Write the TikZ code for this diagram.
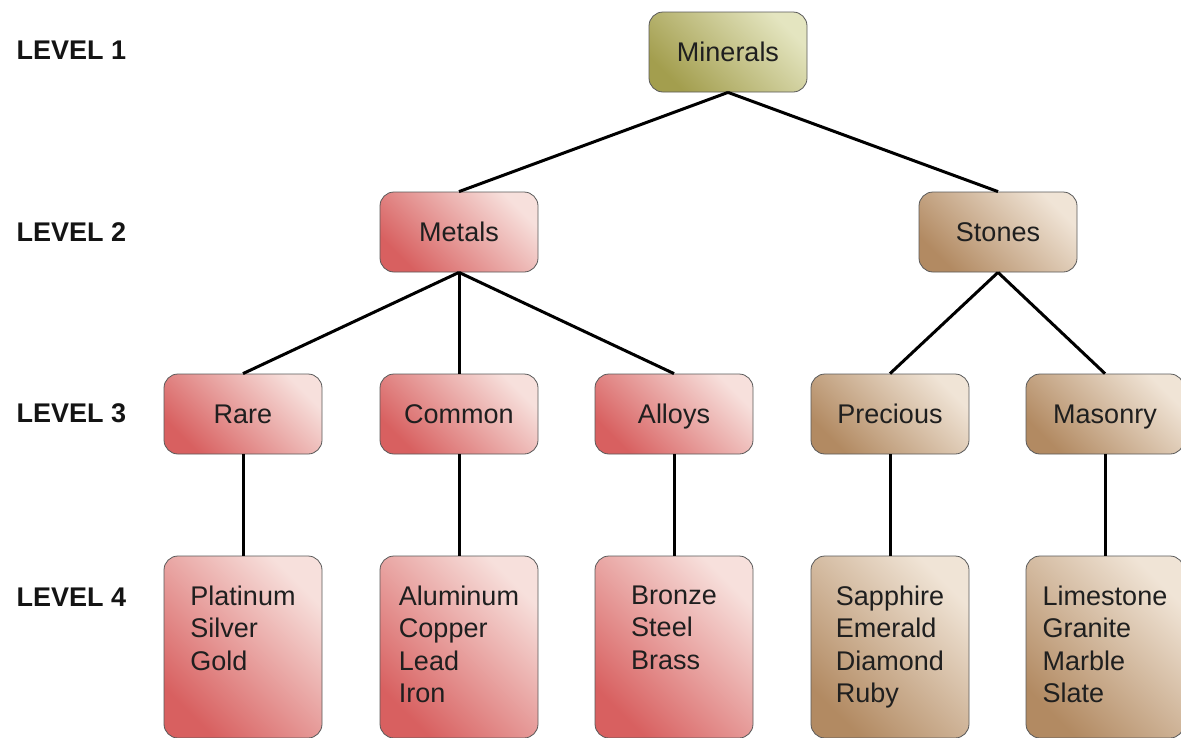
\documentclass[tikz,border=0pt]{standalone}
\usepackage{fontspec}
\setmainfont{Liberation Sans}
\definecolor{minlight}{RGB}{228,229,192}
\definecolor{mindark}{RGB}{163,158,78}
\definecolor{metlight}{RGB}{247,224,220}
\definecolor{metdark}{RGB}{216,96,96}
\definecolor{stolight}{RGB}{240,228,214}
\definecolor{stodark}{RGB}{178,138,98}

\begin{document}
\begin{tikzpicture}[x=1pt,y=-1pt,
	txt/.style={font=\fontsize{27}{32.5}\selectfont,text=black!88},
	lev/.style={font=\fontsize{27}{32.5}\selectfont\bfseries,text=black!92,anchor=west},
	box/.style={txt,draw=black!65,line width=0.8pt,rounded corners=14pt,inner sep=0,minimum width=158pt,minimum height=80pt,text height=20pt,text depth=2pt},
	tall/.style={minimum height=182pt},
	minfill/.style={bottom color=mindark,top color=minlight,shading angle=-45},
	metfill/.style={bottom color=metdark,top color=metlight,shading angle=-45},
	stofill/.style={bottom color=stodark,top color=stolight,shading angle=-45},
	list/.style={txt,align=left,anchor=north,inner sep=0},
	link/.style={line width=3pt}]
	\useasboundingbox (0,0) rectangle (1181,737);
	% level labels
	\node[lev] (l1) at (13,50) {LEVEL 1};
	\node[lev] (l2) at (13,232) {LEVEL 2};
	\node[lev] (l3) at (13,413) {LEVEL 3};
	\node[lev] (l4) at (13,597) {LEVEL 4};
	% level 1 and 2
	\node[box,minfill] (1) at (728,52) {Minerals};
	\node[box,metfill] (2) at (459,232) {Metals};
	\node[box,stofill] (3) at (998,232) {Stones};
	% level 3
	\node[box,metfill] (4) at (243,414) {Rare};
	\node[box,metfill] (5) at (459,414) {Common};
	\node[box,metfill] (6) at (674,414) {Alloys};
	\node[box,stofill] (7) at (890,414) {Precious};
	\node[box,stofill] (8) at (1105,414) {Masonry};
	% level 4
	\node[box,tall,metfill] (9) at (243,647) {};
	\node[box,tall,metfill] (10) at (459,647) {};
	\node[box,tall,metfill] (11) at (674,647) {};
	\node[box,tall,stofill] (12) at (890,647) {};
	\node[box,tall,stofill] (13) at (1105,647) {};
	\node[list] (9t) at ([yshift=-30pt]9.north) {Platinum\\Silver\\Gold};
	\node[list] (10t) at ([yshift=-30pt]10.north) {Aluminum\\Copper\\Lead\\Iron};
	\node[list] (11t) at ([yshift=-30pt]11.north) {Bronze\\Steel\\Brass};
	\node[list] (12t) at ([yshift=-30pt]12.north) {Sapphire\\Emerald\\Diamond\\Ruby};
	\node[list] (13t) at ([yshift=-30pt]13.north) {Limestone\\Granite\\Marble\\Slate};
	% connectors
	\draw[link] (1.south) -- (2.north);
	\draw[link] (1.south) -- (3.north);
	\draw[link] (2.south) -- (4.north);
	\draw[link] (2.south) -- (5.north);
	\draw[link] (2.south) -- (6.north);
	\draw[link] (3.south) -- (7.north);
	\draw[link] (3.south) -- (8.north);
	\draw[link] (4) -- (9);
	\draw[link] (5) -- (10);
	\draw[link] (6) -- (11);
	\draw[link] (7) -- (12);
	\draw[link] (8) -- (13);
\end{tikzpicture}
\end{document}
